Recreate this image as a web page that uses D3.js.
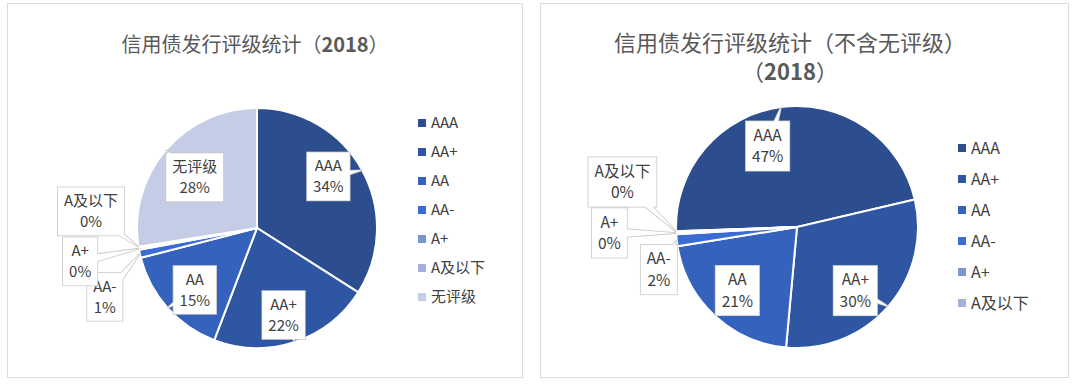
<!DOCTYPE html>
<html>
<head>
<meta charset="utf-8">
<script src="https://cdn.jsdelivr.net/npm/d3@7"></script>
<style>
  html, body { margin: 0; padding: 0; background: #fff; }
  svg { display: block; font-family: "Noto Sans CJK SC", "Noto Sans", sans-serif; }
</style>
</head>
<body>
<div id="chart"></div>
<script>
// Data (percent of issuance by rating)
const leftCategories = ['AAA', 'AA+', 'AA', 'AA-', 'A+', 'A及以下', '无评级'];
const leftValues = [34.0, 21.8, 15.2, 1.1, 0.3, 0.1, 27.5];
const rightCategories = ['AAA', 'AA+', 'AA', 'AA-', 'A+', 'A及以下'];
const rightValues = [46.9, 30.1, 21.0, 1.6, 0.3, 0.1];

const sliceColors = ['#2c4d8e', '#2f56a2', '#3562bc', '#3b6cd3', '#7b96cf', '#a6aedb', '#c5cce6'];

// Label nudges away from the slice centroid (layout only)
const leftNudges = [[3, -14], [2, 13], [-4, 10], [-76, 52], [-100, 20], [-89, -29], [-3, 0]];
const rightNudges = [[-19, -3], [-1, 12], [-6, 6], [-60, 34], [-109, 2], [-96, -48]];

const width = 1080, height = 385;
const svg = d3.select('#chart').append('svg')
    .attr('width', width)
    .attr('height', height);

const color = d3.scaleOrdinal().domain(leftCategories).range(sliceColors);
const pct = d3.format('.0%');

function drawPanel(opts) {
    const g = svg.append('g');

    // Panel frame
    g.append('rect')
        .attr('x', opts.frame[0] + 0.5).attr('y', opts.frame[1] + 0.5)
        .attr('width', opts.frame[2]).attr('height', opts.frame[3])
        .attr('fill', '#fff')
        .attr('stroke', '#dcdcdc');

    // Title
    const title = g.append('text')
        .attr('text-anchor', 'middle')
        .attr('fill', '#595959')
        .attr('font-size', opts.titleSize + 'px');
    opts.title.forEach((line, i) => {
        const t = title.append('tspan')
            .attr('x', opts.titleX)
            .attr('y', opts.titleY + i * 29);
        line.forEach(part => {
            t.append('tspan').text(part.t).attr('font-weight', part.b ? 'bold' : 'normal');
        });
    });

    const total = d3.sum(opts.values);
    const data = opts.categories.map((c, i) => ({ cat: c, value: opts.values[i], nudge: opts.nudges[i] }));
    const pie = d3.pie().sort(null).value(d => d.value)
        .startAngle(opts.start)
        .endAngle(opts.start + 2 * Math.PI);
    const arcs = pie(data);
    const R = opts.r;
    const arc = d3.arc().innerRadius(0).outerRadius(R);
    const labelArc = d3.arc().innerRadius(R * 0.65).outerRadius(R * 0.65);

    const pg = g.append('g').attr('transform', `translate(${opts.cx},${opts.cy})`);

    pg.selectAll('path.slice')
        .data(arcs)
        .join('path')
        .attr('class', 'slice')
        .attr('d', arc)
        .attr('fill', d => color(d.data.cat))
        .attr('stroke', '#fff')
        .attr('stroke-width', 2);

    // Callout labels
    const fs = opts.labelSize;
    const lineH = fs * 1.4;
    arcs.forEach(d => {
        const c = labelArc.centroid(d);
        const lx = c[0] + d.data.nudge[0];
        const ly = c[1] + d.data.nudge[1];
        const mid = (d.startAngle + d.endAngle) / 2;
        const tx = Math.sin(mid) * R;
        const ty = -Math.cos(mid) * R;

        const lines = [d.data.cat, pct(d.value / total)];
        const lg = pg.append('g');
        const txt = lg.append('text')
            .attr('text-anchor', 'middle')
            .attr('fill', '#404040')
            .attr('font-size', fs + 'px');
        lines.forEach((s, i) => {
            txt.append('tspan')
                .attr('x', lx)
                .attr('y', ly + (i - 0.5) * lineH + fs * 0.36)
                .text(s);
        });
        const bb = txt.node().getBBox();
        const bw = bb.width + 12, bh = lineH * 2 + 6;
        const x0 = lx - bw / 2, y0 = ly - bh / 2;

        const inside = tx > x0 && tx < x0 + bw && ty > y0 && ty < y0 + bh;
        let wedge = null;
        if (!inside) {
            const dx = tx - lx, dy = ty - ly;
            const len = Math.hypot(dx, dy);
            const px = -dy / len * 5, py = dx / len * 5;
            wedge = `M${lx + px},${ly + py}L${tx},${ty}L${lx - px},${ly - py}Z`;
        }
        // outline layer
        const shapes = lg.insert('g', 'text');
        if (wedge) shapes.append('path').attr('d', wedge).attr('fill', '#fff').attr('stroke', '#c8c8c8').attr('stroke-width', 1.6);
        shapes.append('rect').attr('x', x0).attr('y', y0).attr('width', bw).attr('height', bh)
            .attr('fill', '#fff').attr('stroke', '#c8c8c8').attr('stroke-width', 1.6);
        // fill layer hides inner edges
        if (wedge) shapes.append('path').attr('d', wedge).attr('fill', '#fff');
        shapes.append('rect').attr('x', x0).attr('y', y0).attr('width', bw).attr('height', bh).attr('fill', '#fff');
    });

    // Legend
    const leg = g.append('g').attr('transform', `translate(${opts.legendX},${opts.legendY})`);
    const items = leg.selectAll('g')
        .data(opts.categories)
        .join('g')
        .attr('transform', (d, i) => `translate(0,${i * opts.legendStep})`);
    items.append('rect')
        .attr('x', 0).attr('y', -4)
        .attr('width', 8).attr('height', 8)
        .attr('fill', d => color(d));
    items.append('text')
        .attr('x', 13)
        .attr('y', 0)
        .attr('dy', '0.36em')
        .attr('fill', '#404040')
        .attr('font-size', opts.legendSize + 'px')
        .text(d => d);
}

drawPanel({
    frame: [7, 3, 515, 374],
    title: [[{ t: '信用债发行评级统计（' }, { t: '2018', b: true }, { t: '）' }]],
    titleX: 255, titleY: 52, titleSize: 20,
    categories: leftCategories, values: leftValues, nudges: leftNudges,
    cx: 257, cy: 228, r: 120, start: 0,
    labelSize: 15,
    legendX: 418, legendY: 123, legendStep: 29, legendSize: 15
});

drawPanel({
    frame: [540, 3, 528, 374],
    title: [[{ t: '信用债发行评级统计（不含无评级）' }], [{ t: '（' }, { t: '2018', b: true }, { t: '）' }]],
    titleX: 790, titleY: 51, titleSize: 22,
    categories: rightCategories, values: rightValues, nudges: rightNudges,
    cx: 797, cy: 227, r: 121, start: -92 * Math.PI / 180,
    labelSize: 15.5,
    legendX: 958, legendY: 148, legendStep: 31, legendSize: 16
});
</script>
</body>
</html>
